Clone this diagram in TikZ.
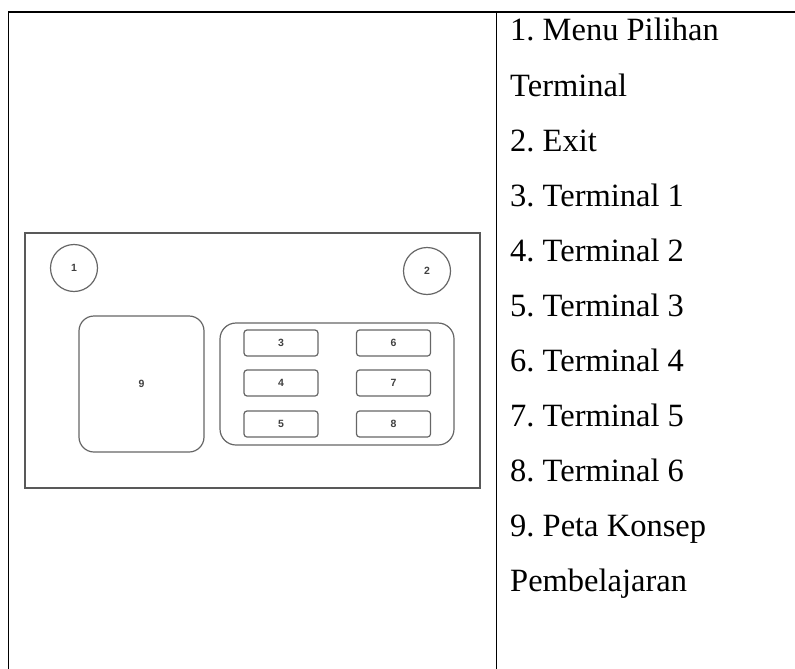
\documentclass[tikz,border=0pt]{standalone}
\usepackage{fontspec}
\setmainfont{Liberation Serif}
\setsansfont{Liberation Sans}
\frenchspacing
\begin{document}
\begin{tikzpicture}[x=1pt,y=-1pt,
  tbl/.style={line width=1.4pt,black},
  frame/.style={draw=black!65,line width=1.3pt},
  outl/.style={draw=black!60,line width=1.2pt},
  num/.style={font=\sffamily\bfseries\fontsize{10.5}{10.5}\selectfont,text=black!75},
  item/.style={anchor=base west,inner sep=0pt,font=\fontsize{32.5}{33}\selectfont}]
\useasboundingbox (0,0) rectangle (795,669);
% table
\draw[tbl] (8.5,669) -- (8.5,12) -- (795,12);
\draw[tbl] (496.5,12) -- (496.5,669);
% screen mockup
\draw[frame] (25,233) rectangle (480,488);
\node[outl,circle,minimum size=47pt,inner sep=0pt,num] (n1) at (74,268) {1};
\node[outl,circle,minimum size=47pt,inner sep=0pt,num] (n2) at (427,271) {2};
\draw[outl,rounded corners=15pt] (79,316) rectangle (204,452);
\node[num] (n9) at (141.5,384) {9};
\draw[outl,rounded corners=16pt] (220,323) rectangle (454,445);
\foreach \n/\x/\y in {3/281/343,4/281/383,5/281/424,6/393.5/343,7/393.5/383,8/393.5/424}{
  \node[outl,rounded corners=3pt,minimum width=74pt,minimum height=26pt,inner sep=0pt,num] (b\n) at (\x,\y) {\n};
}
% legend
\node[item] (t1) at (510,41) {1. Menu Pilihan};
\node[item] (t1b) at (510,96) {Terminal};
\node[item] (t2) at (510,151) {2. Exit};
\node[item] (t3) at (510,206) {3. Terminal 1};
\node[item] (t4) at (510,261) {4. Terminal 2};
\node[item] (t5) at (510,316) {5. Terminal 3};
\node[item] (t6) at (510,371) {6. Terminal 4};
\node[item] (t7) at (510,426) {7. Terminal 5};
\node[item] (t8) at (510,481) {8. Terminal 6};
\node[item] (t9) at (510,536) {9. Peta Konsep};
\node[item] (t9b) at (510,591) {Pembelajaran};
\end{tikzpicture}
\end{document}
